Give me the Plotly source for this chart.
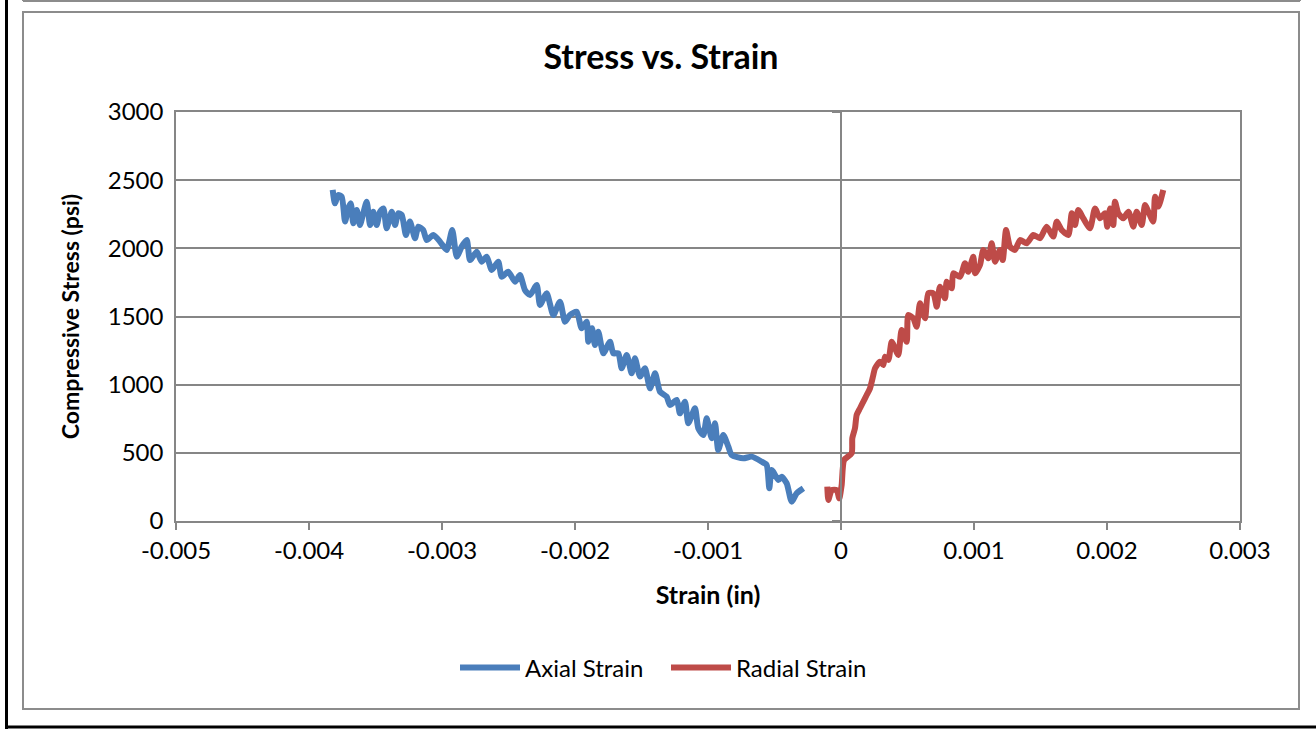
import plotly.graph_objects as go

# Stress vs. strain readings (strain in in, stress in psi)
axial_strain = [
    -0.003822, -0.003805, -0.003780, -0.003754, -0.003729, -0.003705, -0.003686, -0.003667,
    -0.003641, -0.003617, -0.003592, -0.003566, -0.003541, -0.003517, -0.003491, -0.003466,
    -0.003441, -0.003416, -0.003378, -0.003353, -0.003329, -0.003303, -0.003271, -0.003241,
    -0.003203, -0.003178, -0.003141, -0.003115, -0.003065, -0.003015, -0.002965, -0.002923,
    -0.002889, -0.002852, -0.002814, -0.002789, -0.002739, -0.002702, -0.002664, -0.002626,
    -0.002577, -0.002551, -0.002502, -0.002451, -0.002414, -0.002376, -0.002338, -0.002288,
    -0.002263, -0.002213, -0.002163, -0.002113, -0.002075, -0.002038, -0.001987, -0.001950,
    -0.001912, -0.001900, -0.001872, -0.001850, -0.001825, -0.001787, -0.001737, -0.001712,
    -0.001674, -0.001649, -0.001611, -0.001574, -0.001549, -0.001511, -0.001474, -0.001436,
    -0.001398, -0.001361, -0.001311, -0.001286, -0.001235, -0.001211, -0.001173, -0.001148,
    -0.001098, -0.001073, -0.001035, -0.001010, -0.000972, -0.000947, -0.000923, -0.000885,
    -0.000847, -0.000822, -0.000735, -0.000671, -0.000596, -0.000559, -0.000539, -0.000521,
    -0.000471, -0.000446, -0.000408, -0.000371, -0.000333, -0.000283,
]
axial_stress = [
    2428, 2330, 2391, 2379, 2196, 2293, 2330, 2184,
    2281, 2171, 2257, 2342, 2171, 2269, 2171, 2269,
    2293, 2147, 2269, 2171, 2257, 2245, 2098, 2196,
    2074, 2159, 2134, 2061, 2098, 2049, 1988, 2134,
    1939, 2012, 2061, 1914, 1975, 1902, 1939, 1841,
    1902, 1792, 1829, 1755, 1804, 1694, 1658, 1731,
    1584, 1670, 1511, 1609, 1462, 1511, 1535, 1413,
    1462, 1315, 1413, 1291, 1389, 1230, 1315, 1230,
    1230, 1120, 1218, 1083, 1193, 1059, 1120, 973,
    1083, 948, 912, 851, 888, 790, 875, 717,
    827, 680, 631, 753, 607, 717, 521, 631,
    545, 484, 460, 472, 435, 411, 240, 374,
    301, 325, 276, 142, 203, 240,
]

radial_strain = [
    -0.000103, -0.000095, -0.000070, -0.000032, -0.000013, 0.000005, 0.000023, 0.000080,
    0.000085, 0.000105, 0.000118, 0.000143, 0.000168, 0.000193, 0.000218, 0.000243,
    0.000256, 0.000293, 0.000318, 0.000331, 0.000356, 0.000381, 0.000406, 0.000431,
    0.000456, 0.000494, 0.000506, 0.000544, 0.000569, 0.000594, 0.000632, 0.000656,
    0.000694, 0.000720, 0.000744, 0.000782, 0.000795, 0.000832, 0.000844, 0.000895,
    0.000932, 0.000957, 0.000995, 0.001008, 0.001045, 0.001070, 0.001108, 0.001133,
    0.001158, 0.001195, 0.001216, 0.001241, 0.001271, 0.001308, 0.001346, 0.001396,
    0.001446, 0.001496, 0.001546, 0.001596, 0.001622, 0.001659, 0.001709, 0.001735,
    0.001759, 0.001784, 0.001822, 0.001872, 0.001910, 0.001947, 0.001985, 0.002002,
    0.002023, 0.002047, 0.002060, 0.002085, 0.002123, 0.002161, 0.002198, 0.002223,
    0.002261, 0.002286, 0.002311, 0.002348, 0.002361, 0.002386, 0.002423,
]
radial_stress = [
    252, 154, 227, 227, 166, 264, 447, 497,
    607, 680, 778, 827, 875, 924, 973, 1071,
    1120, 1169, 1144, 1205, 1181, 1315, 1267, 1218,
    1401, 1315, 1511, 1487, 1425, 1597, 1487, 1670,
    1670, 1572, 1719, 1633, 1755, 1707, 1817, 1792,
    1890, 1829, 1939, 1817, 1878, 1988, 1927, 2037,
    1902, 1988, 1914, 2134, 2012, 1988, 2061, 2037,
    2098, 2074, 2159, 2086, 2196, 2134, 2098, 2257,
    2171, 2281, 2220, 2147, 2293, 2220, 2257, 2159,
    2293, 2171, 2342, 2257, 2220, 2269, 2159, 2269,
    2171, 2318, 2269, 2196, 2379, 2306, 2428,
]

x_ticks = [-0.005, -0.004, -0.003, -0.002, -0.001, 0, 0.001, 0.002, 0.003]
x_tick_labels = ['-0.005', '-0.004', '-0.003', '-0.002', '-0.001', '0', '0.001', '0.002', '0.003']
y_ticks = [0, 500, 1000, 1500, 2000, 2500, 3000]

font_name = 'Lato'
axis_grey = '#868686'

fig = go.Figure()

fig.add_trace(go.Scatter(
    x=axial_strain, y=axial_stress, mode='lines', name='Axial Strain',
    line=dict(color='#4a7ebb', width=6, shape='spline', smoothing=0.6)
))
fig.add_trace(go.Scatter(
    x=radial_strain, y=radial_stress, mode='lines', name='Radial Strain',
    line=dict(color='#be4b48', width=6, shape='spline', smoothing=0.6)
))

# invisible trace on the second y axis so the axis at x=0 gets drawn
fig.add_trace(go.Scatter(x=[None], y=[None], yaxis='y2', showlegend=False, hoverinfo='skip'))

# frames around the chart (paper units, plot area is 176..1240 x 112..521 px)
def px_x(p):
    return (p - 176) / 1064

def px_y(p):
    return (521 - p) / 409

shapes = [
    dict(type='rect', xref='paper', yref='paper', x0=px_x(23), x1=px_x(1299), y0=px_y(709), y1=px_y(12),
         line=dict(color='#8c8c8c', width=2)),
    dict(type='line', xref='paper', yref='paper', x0=px_x(23), x1=px_x(1300), y0=px_y(1), y1=px_y(1),
         line=dict(color='#8c8c8c', width=2)),
    dict(type='line', xref='paper', yref='paper', x0=px_x(23), x1=px_x(23), y0=px_y(1), y1=px_y(-5),
         line=dict(color='#8c8c8c', width=2)),
    dict(type='line', xref='paper', yref='paper', x0=px_x(1300), x1=px_x(1300), y0=px_y(1), y1=px_y(-5),
         line=dict(color='#8c8c8c', width=2)),
    dict(type='line', xref='paper', yref='paper', x0=px_x(6.5), x1=px_x(6.5), y0=px_y(740), y1=px_y(-10),
         line=dict(color='black', width=3)),
    dict(type='line', xref='paper', yref='paper', x0=px_x(5), x1=px_x(1330), y0=px_y(727), y1=px_y(727),
         line=dict(color='black', width=3)),
]

fig.update_layout(
    width=1316, height=729,
    margin=dict(l=176, r=76, t=112, b=208),
    paper_bgcolor='white', plot_bgcolor='white',
    font=dict(family=font_name, color='black', size=24),
    title=dict(text='<b>Stress vs. Strain</b>', x=661 / 1316, xanchor='center',
               y=1 - 57 / 729, yanchor='middle', font=dict(size=34, family=font_name)),
    xaxis=dict(
        range=[-0.005, 0.003], tickvals=x_ticks, ticktext=x_tick_labels,
        showgrid=False, zeroline=False,
        showline=True, linecolor=axis_grey, linewidth=1.5, mirror=True,
        ticks='outside', ticklen=7, tickcolor=axis_grey, tickwidth=1.5,
        tickfont=dict(size=24),
        title=dict(text='<b>Strain (in)</b>', font=dict(size=25), standoff=24),
    ),
    yaxis=dict(
        range=[0, 3000], tickvals=y_ticks,
        showgrid=True, gridcolor=axis_grey, gridwidth=1.5, zeroline=False,
        showline=True, linecolor=axis_grey, linewidth=1.5, mirror=True,
        ticks='', tickfont=dict(size=24), ticklabelstandoff=6,
        title=dict(text='<b>Compressive Stress (psi)</b>', font=dict(size=23), standoff=22),
    ),
    yaxis2=dict(
        range=[0, 3000], tickvals=y_ticks, overlaying='y', anchor='free', position=px_x(841),
        showgrid=False, zeroline=False, showticklabels=False,
        showline=True, linecolor=axis_grey, linewidth=1.5,
        ticks='outside', ticklen=8, tickcolor=axis_grey, tickwidth=1.5,
    ),
    legend=dict(
        orientation='h', x=px_x(455), xanchor='left', y=px_y(668), yanchor='middle',
        font=dict(size=24), itemwidth=60, entrywidth=136, entrywidthmode='pixels',
    ),
    shapes=shapes,
    showlegend=True,
)

# the page body has a default 8px margin; drop it so the figure sits at the window corner
fig.write_html('out.html', config={'displayModeBar': False},
               post_script="document.body.style.margin='0';")
